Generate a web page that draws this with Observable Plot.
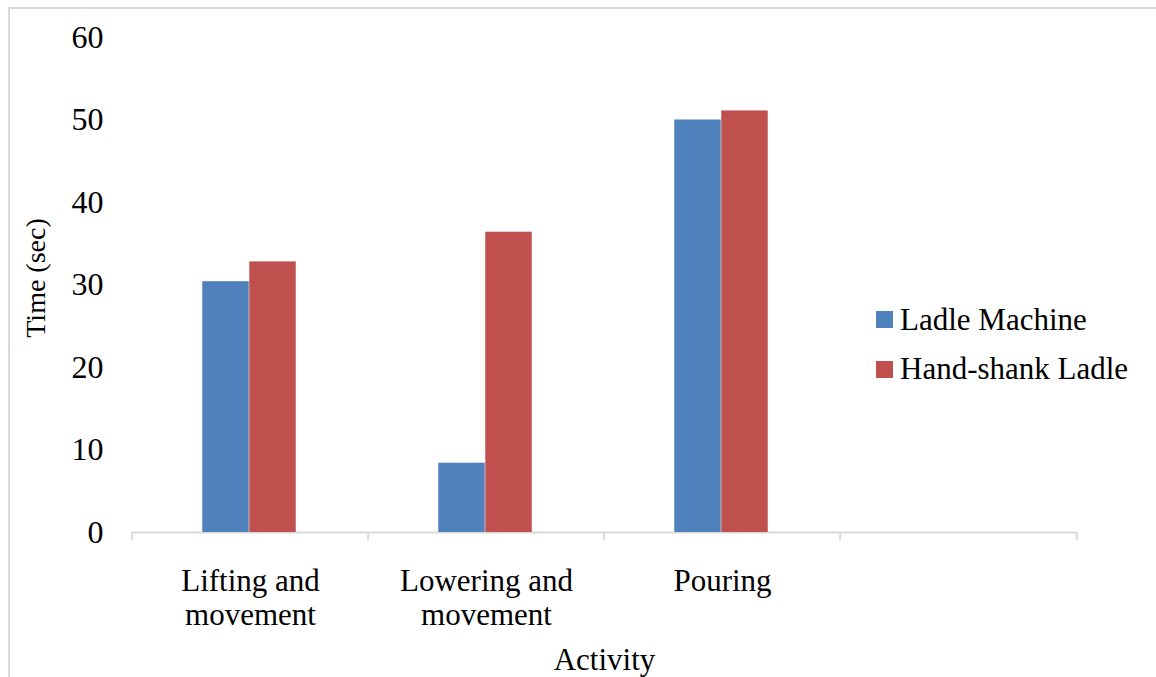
<!DOCTYPE html>
<html><head><meta charset="utf-8">
<script src="https://cdn.jsdelivr.net/npm/d3@7"></script>
<script src="https://cdn.jsdelivr.net/npm/@observablehq/plot@0.6"></script>
<style>
body{margin:0;background:#fff;}
#wrap{position:relative;width:1156px;height:677px;overflow:hidden;font-family:"Liberation Serif","Times New Roman",serif;background:#fff;}
#border{position:absolute;left:8px;top:7px;width:1200px;height:700px;border-left:2px solid #d9d9d9;border-top:2px solid #d9d9d9;pointer-events:none;}
#chart{position:absolute;left:0;top:0;}
#legend{position:absolute;left:876px;top:295px;font-size:31px;color:#000;}
.row{display:flex;align-items:center;height:49.5px;white-space:nowrap;}
.sw{width:17px;height:17px;margin-right:7px;flex:none;}
</style>
</head><body>
<div id="wrap"><div id="chart"></div><div id="border"></div><div id="legend"></div></div>
<script>
const activities = ["Lifting and movement", "Lowering and movement", "Pouring"];
const xLabels = ["Lifting and\nmovement", "Lowering and\nmovement", "Pouring"];
const series = ["Ladle Machine", "Hand-shank Ladle"];
const colors = ["#4F81BD", "#C0504D"];
const ladleMachine = [30.4, 8.4, 50.0];
const handShank = [32.8, 36.4, 51.1];
const yTicks = [0, 10, 20, 30, 40, 50, 60];
const emptySlot = "(empty)";

const data = [
  ...activities.map((a, i) => ({activity: a, series: series[0], value: ladleMachine[i]})),
  ...activities.map((a, i) => ({activity: a, series: series[1], value: handShank[i]}))
];
const slots = [...activities, emptySlot];

const W = 1156, H = 677, mL = 131, mR = 79, mT = 37, mB = 145;
const bw = (W - mL - mR) / slots.length;
const barW = 47;
const font = 31;
const labelMap = new Map(activities.map((a, i) => [a, xLabels[i]]));

const chart = Plot.plot({
  width: W, height: H,
  marginLeft: mL, marginRight: mR, marginTop: mT, marginBottom: mB,
  style: {fontFamily: '"Liberation Serif","Times New Roman",serif', fontSize: font + "px", color: "#000", background: "transparent"},
  x: {type: "band", domain: slots, padding: 0, axis: null},
  y: {domain: [0, 60], axis: null},
  color: {domain: series, range: colors},
  marks: [
    Plot.ruleY([0], {stroke: "#d9d9d9", strokeWidth: 2}),
    Plot.ruleX(slots, {x: d => d, y1: 0, y2: 0, dx: -bw / 2, insetBottom: -8, stroke: "#d9d9d9", strokeWidth: 2}),
    Plot.ruleX([emptySlot], {x: d => d, y1: 0, y2: 0, dx: bw / 2, insetBottom: -8, stroke: "#d9d9d9", strokeWidth: 2}),
    Plot.barY(data.filter(d => d.series === series[0]), {x: "activity", y: "value", fill: "series", insetLeft: bw / 2 - barW - 1, insetRight: bw / 2 + 1}),
    Plot.barY(data.filter(d => d.series === series[1]), {x: "activity", y: "value", fill: "series", insetLeft: bw / 2 - 1, insetRight: bw / 2 - barW + 1}),
    Plot.axisY({ticks: yTicks, tickSize: 0, tickPadding: 28, fontSize: 32, label: null, tickFormat: d3.format("d")}),
    Plot.axisX({ticks: activities, tickSize: 0, tickPadding: 34, fontSize: font, label: null, lineHeight: 1.1, tickFormat: d => labelMap.get(d)}),
    Plot.text(["Activity"], {frameAnchor: "bottom", dy: 128, lineAnchor: "middle", textAnchor: "middle", fontSize: font, fill: "#000"}),
    Plot.text(["Time (sec)"], {frameAnchor: "left", dx: -95, dy: -7, rotate: -90, lineAnchor: "middle", textAnchor: "middle", fontSize: 28, fill: "#000"})
  ]
});
document.getElementById("chart").appendChild(chart);

const legend = document.getElementById("legend");
series.forEach((s, i) => {
  const row = document.createElement("div");
  row.className = "row";
  const sw = document.createElement("div");
  sw.className = "sw";
  sw.style.background = colors[i];
  const t = document.createElement("span");
  t.textContent = s;
  row.appendChild(sw); row.appendChild(t);
  legend.appendChild(row);
});
</script>
</body></html>
